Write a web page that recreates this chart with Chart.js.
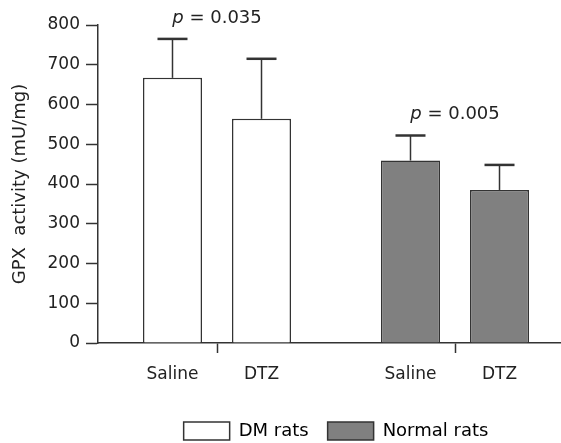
<!DOCTYPE html>
<html lang="en">
<head>
  <meta charset="UTF-8">
  <title>GPX activity</title>
  <script src="https://cdn.jsdelivr.net/npm/chart.js"></script>
  <style>
    html, body { margin: 0; padding: 0; background: #fff; overflow: hidden; }
    #wrap { width: 576px; height: 450px; }
  </style>
</head>
<body>
  <div id="wrap"><canvas id="gpxChart"></canvas></div>

  <script>
    // groups on the x axis, treatments inside each group
    const groups = ['DM rats', 'Normal rats'];
    const treatments = ['Saline', 'DTZ'];
    const salineMeans = [667, 459];
    const dtzMeans = [564, 385];
    const salineSD = [98, 63];
    const dtzSD = [151, 63];
    const pValues = ['0.035', '0.005'];
    const yTicks = [0, 100, 200, 300, 400, 500, 600, 700, 800];

    const groupColors = ['#ffffff', '#808080'];
    const ink = '#333333';
    const textColor = '#222222';
    const FONT = 'DejaVu Sans';

    Chart.defaults.font.family = FONT;
    Chart.defaults.color = textColor;

    // error bars, treatment names under each bar, p values over each group
    const annotate = {
      id: 'annotate',
      afterDatasetsDraw(chart) {
        const ctx = chart.ctx;
        const y = chart.scales.y;
        const x = chart.scales.x;
        const sds = [salineSD, dtzSD];
        const errTops = groups.map(() => Infinity);

        ctx.save();
        chart.data.datasets.forEach((ds, di) => {
          const meta = chart.getDatasetMeta(di);
          meta.data.forEach((bar, i) => {
            const top = y.getPixelForValue(ds.data[i] + sds[di][i]);
            errTops[i] = Math.min(errTops[i], top);
            ctx.strokeStyle = ink;
            ctx.lineWidth = 1.5;
            ctx.beginPath();
            ctx.moveTo(bar.x, bar.y);
            ctx.lineTo(bar.x, top);
            ctx.stroke();
            ctx.lineWidth = 2.5;
            ctx.beginPath();
            ctx.moveTo(bar.x - 15, top);
            ctx.lineTo(bar.x + 15, top);
            ctx.stroke();

            ctx.fillStyle = textColor;
            ctx.font = '17px ' + FONT;
            ctx.textAlign = 'center';
            ctx.textBaseline = 'middle';
            ctx.fillText(treatments[di], bar.x, y.bottom + 32);
          });
        });

        pValues.forEach((p, i) => {
          const cx = x.getPixelForValue(i);
          const cy = errTops[i] - 21;
          const rest = ' = ' + p;
          ctx.textBaseline = 'middle';
          ctx.textAlign = 'left';
          ctx.font = 'italic 18px ' + FONT;
          const wp = ctx.measureText('p').width;
          ctx.font = '18px ' + FONT;
          const wr = ctx.measureText(rest).width;
          const left = cx - (wp + wr) / 2;
          ctx.font = 'italic 18px ' + FONT;
          ctx.fillText('p', left, cy);
          ctx.font = '18px ' + FONT;
          ctx.fillText(rest, left + wp, cy);
        });
        ctx.restore();
      }
    };

    const barStyle = {
      backgroundColor: groupColors,
      borderColor: ink,
      borderWidth: 1.5,
      borderSkipped: 'bottom',
      categoryPercentage: 0.748,
      barPercentage: 0.663
    };

    new Chart(document.getElementById('gpxChart'), {
      type: 'bar',
      data: {
        labels: groups,
        datasets: [
          { label: treatments[0], data: salineMeans, ...barStyle },
          { label: treatments[1], data: dtzMeans, ...barStyle }
        ]
      },
      options: {
        responsive: true,
        maintainAspectRatio: false,
        animation: false,
        layout: { padding: { top: 25, right: 2, bottom: 0, left: 0 } },
        plugins: {
          tooltip: { enabled: false },
          legend: {
            position: 'bottom',
            fullSize: false,
            onClick: null,
            labels: {
              boxWidth: 46,
              boxHeight: 18,
              padding: 19,
              font: { size: 18 },
              color: textColor,
              generateLabels: () => groups.map((g, i) => ({
                text: g,
                fillStyle: groupColors[i],
                strokeStyle: ink,
                lineWidth: 1.5,
                hidden: false,
                index: i
              }))
            }
          }
        },
        scales: {
          x: {
            type: 'category',
            offset: true,
            grid: { display: true, drawOnChartArea: false, offset: false, tickLength: 10, tickWidth: 1.5, tickColor: ink },
            border: { color: ink, width: 1.5 },
            ticks: { display: false },
            afterFit: (s) => { s.height = 60; }
          },
          y: {
            min: 0,
            max: 800,
            afterBuildTicks: (s) => { s.ticks = yTicks.map(v => ({ value: v })); },
            grid: { drawOnChartArea: false, tickLength: 12, tickWidth: 1.5, tickColor: ink },
            border: { color: ink, width: 1.5 },
            ticks: { padding: 6, font: { size: 17 }, color: textColor },
            title: { display: true, text: 'GPX  activity (mU/mg)', font: { size: 18 }, color: textColor, padding: { top: 10, bottom: 0 } },
            afterFit: (s) => { s.width = 98; }
          }
        }
      },
      plugins: [annotate]
    });
  </script>
</body>
</html>
